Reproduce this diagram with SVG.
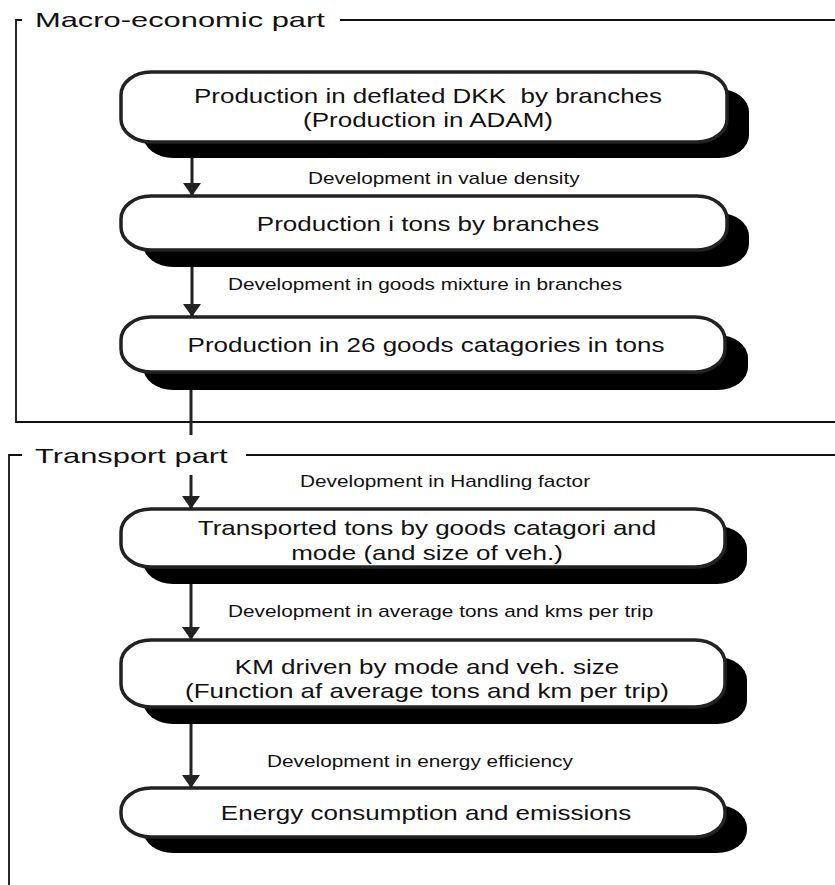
<svg xmlns="http://www.w3.org/2000/svg" width="835" height="885" viewBox="0 0 835 885">
<defs>
<style>
text{font-family:"Liberation Sans",Arial,Helvetica,sans-serif;fill:#111}
.ttl{font-size:21px}
.bt{font-size:20px;text-anchor:middle;white-space:pre}
.lb{font-size:16px}
.frame{fill:none;stroke:#111;stroke-width:1.8}
.shadow{fill:#000}
.box{fill:#fff;stroke:#222;stroke-width:3.5}
.conn{fill:none;stroke:#222;stroke-width:3}
</style>
<marker id="ah" markerUnits="userSpaceOnUse" markerWidth="14" markerHeight="18" refX="13" refY="9" orient="auto">
<path d="M0,0 L13,9 L0,18 Z" fill="#222"/>
</marker>
</defs>
<rect width="835" height="885" fill="#fff"/>

<g id="frame-macro">
<path class="frame" d="M22,20 H16 V422 H835"/>
<path class="frame" d="M340,20 H835"/>
<text class="ttl" transform="translate(35,27) scale(1.47,1)">Macro-economic part</text>
</g>
<g id="frame-transport">
<path class="frame" d="M22,455 H9 V885"/>
<path class="frame" d="M246,455 H835"/>
<text class="ttl" transform="translate(35,463) scale(1.47,1)">Transport part</text>
</g>

<g id="connectors">
<line class="conn" x1="192" y1="142" x2="192" y2="196" marker-end="url(#ah)"/>
<line class="conn" x1="192" y1="250" x2="192" y2="317" marker-end="url(#ah)"/>
<line class="conn" x1="191" y1="372" x2="191" y2="435"/>
<line class="conn" x1="191" y1="475" x2="191" y2="509" marker-end="url(#ah)"/>
<line class="conn" x1="191" y1="567" x2="191" y2="640" marker-end="url(#ah)"/>
<line class="conn" x1="191" y1="707" x2="191" y2="788" marker-end="url(#ah)"/>
<text class="lb" transform="translate(308,184) scale(1.3,1)">Development in value density</text>
<text class="lb" transform="translate(228,290) scale(1.3,1)">Development in goods mixture in branches</text>
<text class="lb" transform="translate(300,487) scale(1.3,1)">Development in Handling factor</text>
<text class="lb" transform="translate(228,617) scale(1.3,1)">Development in average tons and kms per trip</text>
<text class="lb" transform="translate(267,767) scale(1.3,1)">Development in energy efficiency</text>
</g>

<g id="node1">
<rect class="shadow" x="143" y="89" width="606" height="69" rx="30" ry="23"/>
<rect class="box" x="121" y="72" width="606" height="70" rx="30" ry="23"/>
<text class="bt" transform="translate(428,103) scale(1.3,1)">Production in deflated DKK  by branches</text>
<text class="bt" transform="translate(428,127) scale(1.3,1)">(Production in ADAM)</text>
</g>
<g id="node2">
<rect class="shadow" x="143" y="213" width="606" height="54" rx="30" ry="23"/>
<rect class="box" x="121" y="196" width="606" height="54" rx="30" ry="23"/>
<text class="bt" transform="translate(428,231) scale(1.3,1)">Production i tons by branches</text>
</g>
<g id="node3">
<rect class="shadow" x="143" y="335" width="605" height="55" rx="30" ry="23"/>
<rect class="box" x="121" y="317" width="604" height="55" rx="30" ry="23"/>
<text class="bt" transform="translate(426,352) scale(1.3,1)">Production in 26 goods catagories in tons</text>
</g>
<g id="node4">
<rect class="shadow" x="143" y="526" width="604" height="58" rx="30" ry="23"/>
<rect class="box" x="121" y="509" width="604" height="58" rx="30" ry="23"/>
<text class="bt" transform="translate(427,535) scale(1.3,1)">Transported tons by goods catagori and</text>
<text class="bt" transform="translate(427,560) scale(1.3,1)">mode (and size of veh.)</text>
</g>
<g id="node5">
<rect class="shadow" x="143" y="657" width="604" height="67" rx="30" ry="23"/>
<rect class="box" x="121" y="640" width="604" height="67" rx="30" ry="23"/>
<text class="bt" transform="translate(427,674) scale(1.3,1)">KM driven by mode and veh. size</text>
<text class="bt" transform="translate(427,698) scale(1.3,1)">(Function af average tons and km per trip)</text>
</g>
<g id="node6">
<rect class="shadow" x="143" y="805" width="604" height="48" rx="30" ry="23"/>
<rect class="box" x="121" y="788" width="604" height="49" rx="30" ry="23"/>
<text class="bt" transform="translate(426,820) scale(1.3,1)">Energy consumption and emissions</text>
</g>
</svg>
